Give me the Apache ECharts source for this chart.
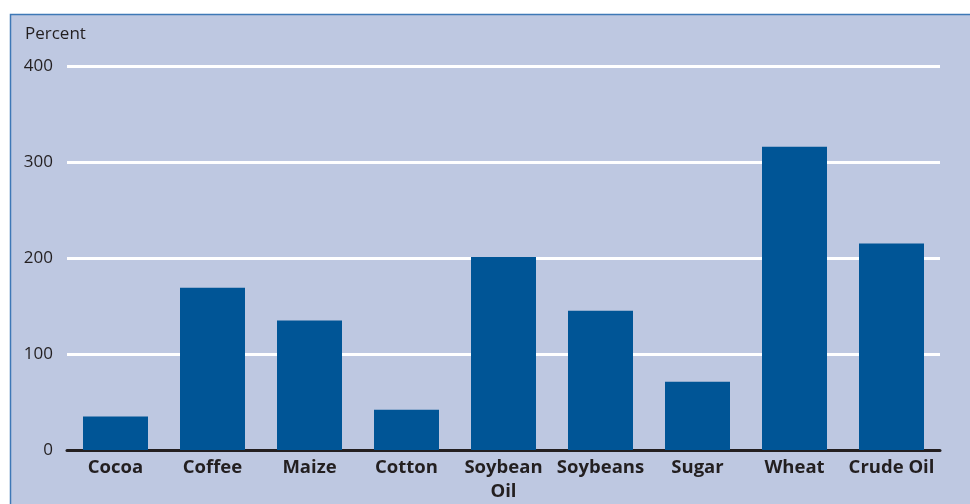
<!DOCTYPE html>
<html>
<head>
<meta charset="utf-8">
<script src="https://cdn.jsdelivr.net/npm/echarts@6/dist/echarts.min.js"></script>
<style>
  html, body { margin: 0; padding: 0; background: #ffffff; }
  #chart { width: 970px; height: 504px; }
</style>
</head>
<body>
<div id="chart"></div>
<script>
// Commodity price changes, in percent
const categories = ['Cocoa', 'Coffee', 'Maize', 'Cotton', 'Soybean\nOil', 'Soybeans', 'Sugar', 'Wheat', 'Crude Oil'];
const values = [35, 169, 135, 42, 201, 145, 71, 316, 215];
const yTicks = [0, 100, 200, 300, 400];

const chart = echarts.init(document.getElementById('chart'), null, { renderer: 'canvas' });

chart.setOption({
  animation: false,
  backgroundColor: '#ffffff',
  graphic: [
    {
      type: 'rect',
      z: -10,
      silent: true,
      shape: { x: 10.5, y: 14.5, width: 980, height: 510 },
      style: { fill: '#bec8e1', stroke: '#3e78b6', lineWidth: 1.5 }
    },
    {
      type: 'text',
      left: 25,
      top: 26,
      style: { text: 'Percent', font: '17px "Open Sans", sans-serif', fill: '#231f20' }
    }
  ],
  grid: { left: 67, right: 30, top: 66, bottom: 54, containLabel: false },
  xAxis: {
    type: 'category',
    data: categories,
    axisLine: { show: true, lineStyle: { color: '#231f20', width: 3 } },
    axisTick: { show: false },
    axisLabel: {
      color: '#231f20',
      fontFamily: 'Open Sans',
      fontWeight: 'bold',
      fontSize: 18.5,
      margin: 6,
      lineHeight: 24,
      interval: 0
    }
  },
  yAxis: {
    type: 'value',
    min: yTicks[0],
    max: yTicks[yTicks.length - 1],
    interval: 100,
    axisLine: { show: false },
    axisTick: { show: false },
    axisLabel: {
      color: '#231f20',
      fontFamily: 'Open Sans',
      fontSize: 17,
      margin: 14
    },
    splitLine: { show: true, lineStyle: { color: '#ffffff', width: 3 } }
  },
  series: [{
    type: 'bar',
    data: values,
    barWidth: 65,
    itemStyle: { color: '#005596' }
  }]
});
</script>
</body>
</html>
